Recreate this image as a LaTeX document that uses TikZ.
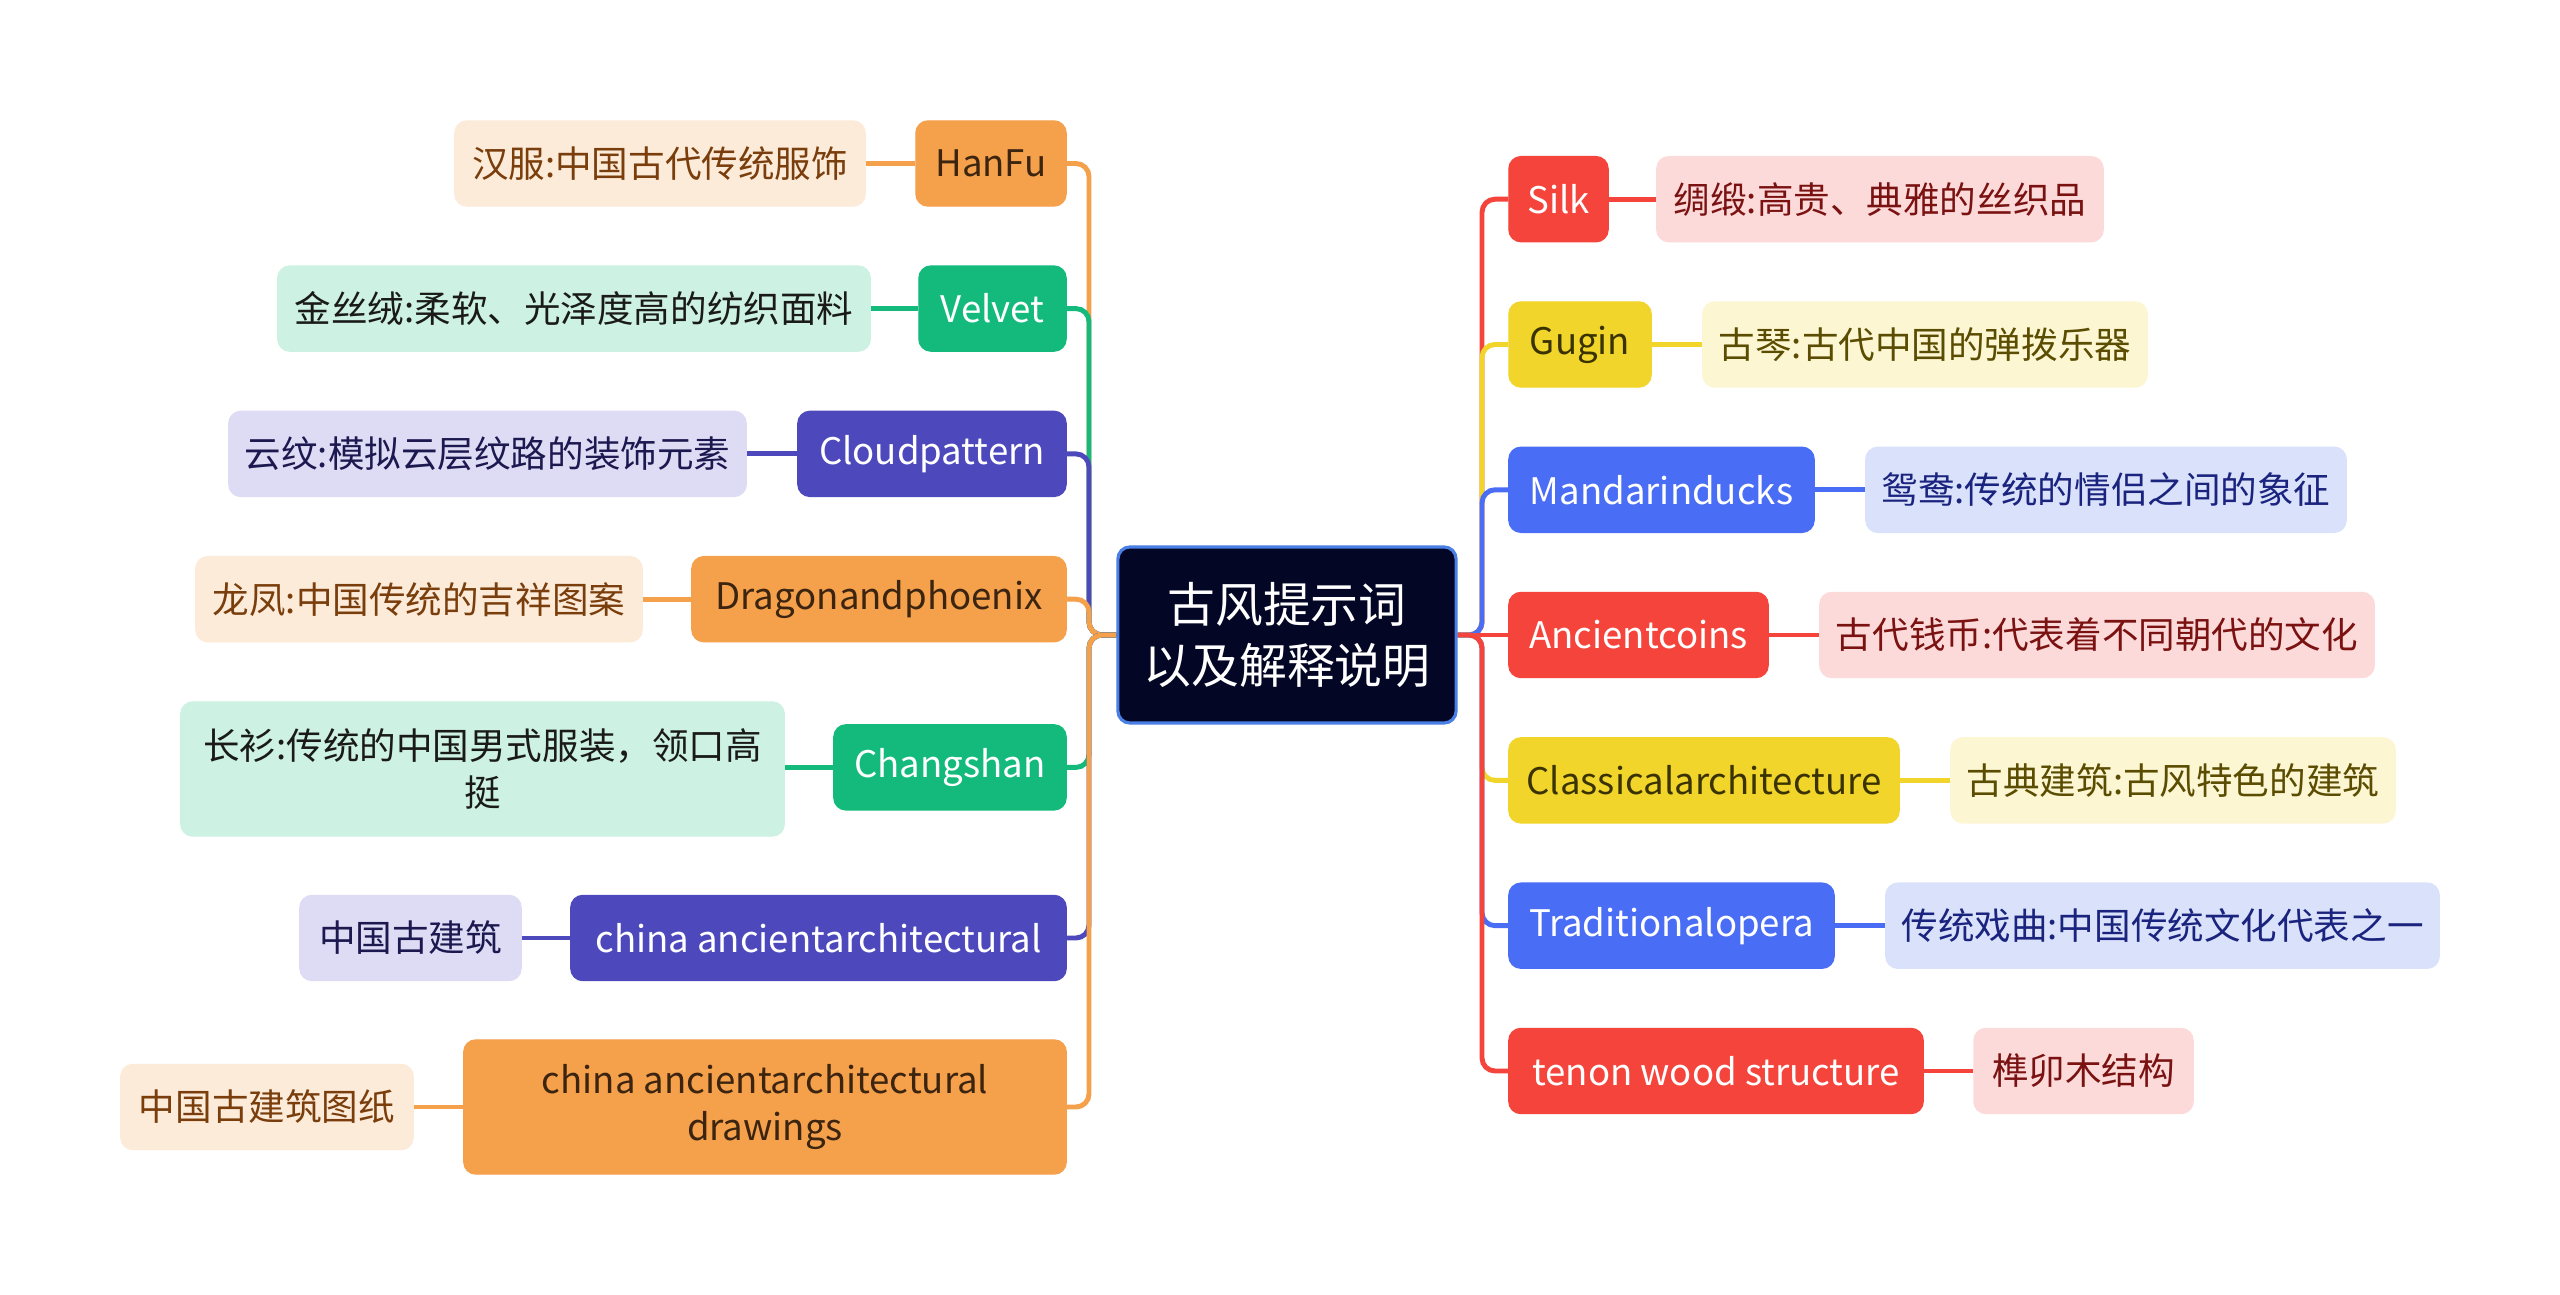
\documentclass[tikz,border=0pt]{standalone}
\usepackage{fontspec}
\setmainfont{Noto Sans CJK SC}
\pgfdeclarelayer{bg}
\pgfsetlayers{bg,main}
\definecolor{oN}{HTML}{F5A04B}\definecolor{oL}{HTML}{FDEBDA}\definecolor{oT}{HTML}{3B2410}\definecolor{oLT}{HTML}{7A3E0C}
\definecolor{gN}{HTML}{13BA7C}\definecolor{gL}{HTML}{CDF1E2}\definecolor{gLT}{HTML}{1A1A1A}
\definecolor{pN}{HTML}{4D49BC}\definecolor{pL}{HTML}{DEDCF4}\definecolor{pLT}{HTML}{1C1850}
\definecolor{rN}{HTML}{F5443C}\definecolor{rL}{HTML}{FDDADA}\definecolor{rLT}{HTML}{7A1212}
\definecolor{yN}{HTML}{F1D52A}\definecolor{yL}{HTML}{FDF6D3}\definecolor{yT}{HTML}{3A3300}\definecolor{yLT}{HTML}{5A4C00}
\definecolor{bN}{HTML}{4A6DF6}\definecolor{bL}{HTML}{DAE2FB}\definecolor{bLT}{HTML}{1A237E}
\definecolor{cF}{HTML}{030625}\definecolor{cB}{HTML}{4A7FE6}
\tikzset{
  box/.style={rounded corners=0.12cm, inner xsep=0pt, inner ysep=0pt, minimum height=0.85cm,
    font=\fontsize{10.4}{13.4}\selectfont, align=center},
  conn/.style={line width=1.4pt, rounded corners=0.13cm},
  leafconn/.style={line width=1.4pt},
}
\begin{document}
\begin{tikzpicture}[x=0.01cm, y=-0.01cm]
\useasboundingbox (0,0) rectangle (2560,1295);
\begin{pgfonlayer}{bg}
\fill[white] (0,0) rectangle (2560,1295);
\end{pgfonlayer}
% center
\node[rounded corners=0.12cm, fill=cF, draw=cB, line width=0.9pt, minimum width=3.38cm, minimum height=1.76cm,
  inner sep=0pt, text=white, align=center, font=\fontsize{13.6}{17.6}\selectfont] (c) at (1287,635) {古风提示词\\以及解释说明};
\coordinate (tl) at (1089,635);
\coordinate (tr) at (1482,635);
% left main nodes
\node[box, fill=oN, draw=oN, text=oT, minimum width=1.50cm] (hanfu) at (991,163.5) {HanFu};
\node[box, fill=gN, draw=gN, text=white, minimum width=1.47cm] (velvet) at (992.5,308.6) {Velvet};
\node[box, fill=pN, draw=pN, text=white, minimum width=2.68cm] (cloud) at (932,453.9) {Cloudpattern};
\node[box, fill=oN, draw=oN, text=oT, minimum width=3.74cm] (dragon) at (879,599.2) {Dragonandphoenix};
\node[box, fill=gN, draw=gN, text=white, minimum width=2.32cm] (chang) at (950,767.4) {Changshan};
\node[box, fill=pN, draw=pN, text=white, minimum width=4.95cm] (china) at (818.5,938) {china ancientarchitectural};
\node[box, fill=oN, draw=oN, text=oT, minimum width=6.02cm, minimum height=1.34cm] (drw) at (765,1107) {china ancientarchitectural\\drawings};
% left leaves
\node[box, fill=oL, draw=oL, text=oLT, minimum width=4.10cm] (l1) at (660,163.5) {汉服:中国古代传统服饰};
\node[box, fill=gL, draw=gL, text=gLT, minimum width=5.92cm] (l2) at (574,308.6) {金丝绒:柔软、光泽度高的纺织面料};
\node[box, fill=pL, draw=pL, text=pLT, minimum width=5.17cm] (l3) at (487.5,453.9) {云纹:模拟云层纹路的装饰元素};
\node[box, fill=oL, draw=oL, text=oLT, minimum width=4.46cm] (l4) at (419,599.2) {龙凤:中国传统的吉祥图案};
\node[box, fill=gL, draw=gL, text=gLT, minimum width=6.03cm, minimum height=1.34cm] (l5) at (482.5,769) {长衫:传统的中国男式服装，领口高\\挺};
\node[box, fill=pL, draw=pL, text=pLT, minimum width=2.21cm] (l6) at (410.5,938) {中国古建筑};
\node[box, fill=oL, draw=oL, text=oLT, minimum width=2.92cm] (l7) at (267,1107) {中国古建筑图纸};
% right main nodes
\node[box, fill=rN, draw=rN, text=white, minimum width=0.99cm] (silk) at (1558.5,199.2) {Silk};
\node[box, fill=yN, draw=yN, text=yT, minimum width=1.42cm] (gugin) at (1580,344.5) {Gugin};
\node[box, fill=bN, draw=bN, text=white, minimum width=3.05cm] (mand) at (1661.5,489.8) {Mandarinducks};
\node[box, fill=rN, draw=rN, text=white, minimum width=2.59cm] (coins) at (1638.5,635) {Ancientcoins};
\node[box, fill=yN, draw=yN, text=yT, minimum width=3.90cm] (classic) at (1704,780.4) {Classicalarchitecture};
\node[box, fill=bN, draw=bN, text=white, minimum width=3.25cm] (opera) at (1671.5,925.7) {Traditionalopera};
\node[box, fill=rN, draw=rN, text=white, minimum width=4.14cm] (tenon) at (1716,1071) {tenon wood structure};
% right leaves
\node[box, fill=rL, draw=rL, text=rLT, minimum width=4.46cm] (r1) at (1880,199.2) {绸缎:高贵、典雅的丝织品};
\node[box, fill=yL, draw=yL, text=yLT, minimum width=4.44cm] (r2) at (1925,344.5) {古琴:古代中国的弹拨乐器};
\node[box, fill=bL, draw=bL, text=bLT, minimum width=4.80cm] (r3) at (2106,489.8) {鸳鸯:传统的情侣之间的象征};
\node[box, fill=rL, draw=rL, text=rLT, minimum width=5.54cm] (r4) at (2097,635) {古代钱币:代表着不同朝代的文化};
\node[box, fill=yL, draw=yL, text=yLT, minimum width=4.44cm] (r5) at (2173,780.4) {古典建筑:古风特色的建筑};
\node[box, fill=bL, draw=bL, text=bLT, minimum width=5.53cm] (r6) at (2162.5,925.7) {传统戏曲:中国传统文化代表之一};
\node[box, fill=rL, draw=rL, text=rLT, minimum width=2.19cm] (r7) at (2083.5,1071) {榫卯木结构};
% connectors (behind nodes)
\begin{pgfonlayer}{bg}
\draw[conn, oN] (hanfu.east) -- (hanfu.east -| tl) -- (tl) -- (c.west);
\draw[conn, gN] (velvet.east) -- (velvet.east -| tl) -- (tl) -- (c.west);
\draw[conn, pN] (cloud.east) -- (cloud.east -| tl) -- (tl) -- (c.west);
\draw[conn, oN] (dragon.east) -- (dragon.east -| tl) -- (tl) -- (c.west);
\draw[conn, gN] (chang.east) -- (chang.east -| tl) -- (tl) -- (c.west);
\draw[conn, pN] (china.east) -- (china.east -| tl) -- (tl) -- (c.west);
\draw[conn, oN] (drw.east) -- (drw.east -| tl) -- (tl) -- (c.west);
\draw[conn, rN] (silk.west) -- (silk.west -| tr) -- (tr) -- (c.east);
\draw[conn, yN] (gugin.west) -- (gugin.west -| tr) -- (tr) -- (c.east);
\draw[conn, bN] (mand.west) -- (mand.west -| tr) -- (tr) -- (c.east);
\draw[conn, rN] (coins.west) -- (c.east);
\draw[conn, yN] (classic.west) -- (classic.west -| tr) -- (tr) -- (c.east);
\draw[conn, bN] (opera.west) -- (opera.west -| tr) -- (tr) -- (c.east);
\draw[conn, rN] (tenon.west) -- (tenon.west -| tr) -- (tr) -- (c.east);
\draw[leafconn, oN] (hanfu.west) -- (l1.east);
\draw[leafconn, gN] (velvet.west) -- (l2.east);
\draw[leafconn, pN] (cloud.west) -- (l3.east);
\draw[leafconn, oN] (dragon.west) -- (l4.east);
\draw[leafconn, gN] (chang.west) -- (chang.west -| l5.east);
\draw[leafconn, pN] (china.west) -- (l6.east);
\draw[leafconn, oN] (drw.west) -- (l7.east);
\draw[leafconn, rN] (silk.east) -- (r1.west);
\draw[leafconn, yN] (gugin.east) -- (r2.west);
\draw[leafconn, bN] (mand.east) -- (r3.west);
\draw[leafconn, rN] (coins.east) -- (r4.west);
\draw[leafconn, yN] (classic.east) -- (r5.west);
\draw[leafconn, bN] (opera.east) -- (r6.west);
\draw[leafconn, rN] (tenon.east) -- (r7.west);
\end{pgfonlayer}
\end{tikzpicture}
\end{document}
